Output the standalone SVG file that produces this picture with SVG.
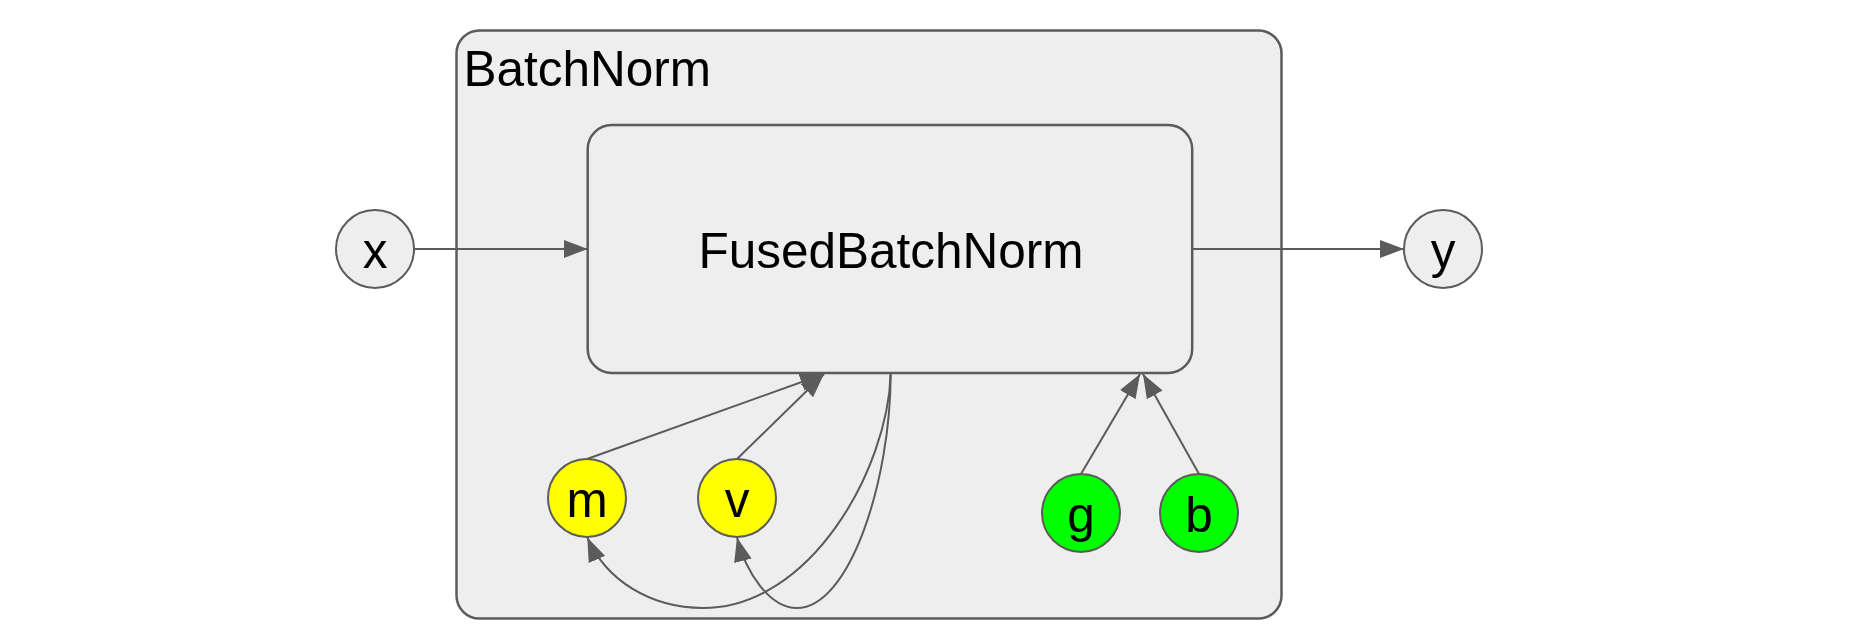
<svg xmlns="http://www.w3.org/2000/svg" width="1860" height="642" viewBox="0 0 1860 642">
<style>
.box{fill:#eeeeee;stroke:#5b5b5b;stroke-width:2.5}
.node{stroke:#5b5b5b;stroke-width:2}
.grey{fill:#eeeeee}
.yellow{fill:#ffff00}
.green{fill:#00ff00}
.lbl{font-family:"Liberation Sans",Arial,sans-serif;font-size:49.5px;fill:#000000;text-anchor:middle}
.edge{fill:none;stroke:#5b5b5b;stroke-width:2}
</style>
<defs>
<marker id="arr" viewBox="0 0 24 18" refX="24" refY="9" markerWidth="24" markerHeight="18" markerUnits="userSpaceOnUse" orient="auto">
<path d="M0,0 L24,9 L0,18 z" fill="#5b5b5b"/>
</marker>
</defs>
<g id="BatchNorm">
<rect class="box" x="456.5" y="30.5" width="825" height="588" rx="23" ry="23"/>
<text class="lbl" x="463.5" y="85.5" style="text-anchor:start">BatchNorm</text>
</g>
<g id="FusedBatchNorm">
<rect class="box" x="587.7" y="125" width="604.5" height="248" rx="24" ry="24"/>
<text class="lbl" x="891" y="267.5">FusedBatchNorm</text>
</g>
<g id="x">
<circle class="node grey" cx="375" cy="249" r="39"/>
<text class="lbl" x="375" y="267.5">x</text>
</g>
<g id="y">
<circle class="node grey" cx="1443" cy="249" r="39"/>
<text class="lbl" x="1443" y="267.5">y</text>
</g>
<g id="m">
<circle class="node yellow" cx="587" cy="498" r="39"/>
<text class="lbl" x="587" y="516.5">m</text>
</g>
<g id="v">
<circle class="node yellow" cx="737" cy="498" r="39"/>
<text class="lbl" x="737" y="516.5">v</text>
</g>
<g id="g">
<circle class="node green" cx="1081" cy="513" r="39"/>
<text class="lbl" x="1081" y="531.5">g</text>
</g>
<g id="b">
<circle class="node green" cx="1199" cy="513" r="39"/>
<text class="lbl" x="1199" y="531.5">b</text>
</g>
<g id="connectors">
<path class="edge" marker-end="url(#arr)" d="M414,249 L587.7,249"/>
<path class="edge" marker-end="url(#arr)" d="M1192.2,249 L1404,249"/>
<path class="edge" marker-end="url(#arr)" d="M587,459 L824,374"/>
<path class="edge" marker-end="url(#arr)" d="M737,459 L824,374"/>
<path class="edge" marker-end="url(#arr)" d="M1081,474 L1140,374"/>
<path class="edge" marker-end="url(#arr)" d="M1199,474 L1143,374"/>
<path class="edge" marker-end="url(#arr)" d="M890.7,373 C888,470 810,608 703,608 C650,608 606,580 587.3,537.5"/>
<path class="edge" marker-end="url(#arr)" d="M890.7,373 C890.7,480 850,608 796.7,608 C770,608 746,573 737,537.5"/>
</g>
</svg>
